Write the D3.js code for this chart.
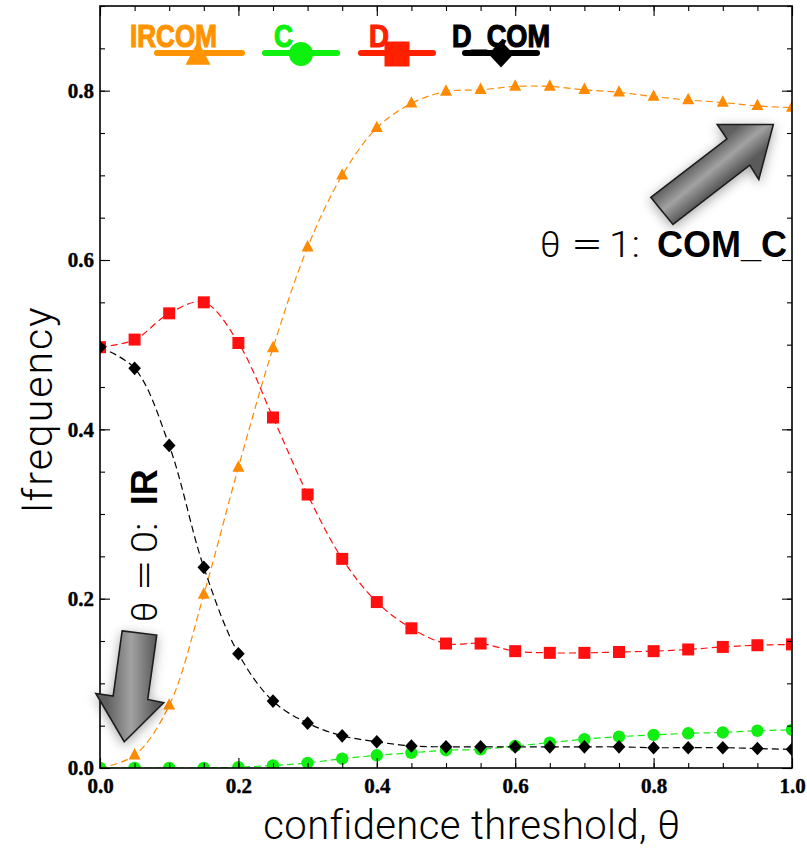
<!DOCTYPE html>
<html>
<head>
<meta charset="utf-8">
<script src="https://cdn.jsdelivr.net/npm/d3@7"></script>
<style>
  body { margin: 0; background: #fff; }
</style>
</head>
<body>
<div class="plot"></div>
<script>
// data
const thresholds = [0.00, 0.05, 0.10, 0.15, 0.20, 0.25, 0.30, 0.35, 0.40, 0.45, 0.50,
                    0.55, 0.60, 0.65, 0.70, 0.75, 0.80, 0.85, 0.90, 0.95, 1.00];
const ircom = [0.000, 0.015, 0.074, 0.205, 0.355, 0.496, 0.615, 0.700, 0.756, 0.785, 0.799,
               0.801, 0.805, 0.805, 0.801, 0.798, 0.793, 0.789, 0.786, 0.782, 0.780];
const cVals = [0.000, 0.000, 0.000, 0.000, 0.001, 0.003, 0.006, 0.011, 0.015, 0.018, 0.021,
               0.022, 0.026, 0.030, 0.034, 0.037, 0.039, 0.041, 0.042, 0.044, 0.045];
const dVals = [0.497, 0.506, 0.537, 0.550, 0.502, 0.414, 0.323, 0.247, 0.196, 0.165, 0.147,
               0.147, 0.138, 0.136, 0.136, 0.137, 0.138, 0.140, 0.143, 0.145, 0.146];
const dcomVals = [0.497, 0.472, 0.381, 0.237, 0.135, 0.079, 0.053, 0.038, 0.031, 0.026, 0.025,
                  0.025, 0.025, 0.025, 0.025, 0.025, 0.024, 0.024, 0.024, 0.023, 0.022];
const seriesNames = ["IRCOM", "C", "D", "D_COM"];
const xTickLabels = ["0.0", "0.2", "0.4", "0.6", "0.8", "1.0"];
const yTickLabels = ["0.0", "0.2", "0.4", "0.6", "0.8"];

const margin = {top: 6, right: 15, bottom: 86, left: 100};
const w = 807 - margin.left - margin.right;
const h = 854 - margin.top - margin.bottom;

const svg = d3.select(".plot")
    .append("svg")
        .attr("width", 807)
        .attr("height", 854)
    .append("g")
        .attr("transform", "translate(" + margin.left + ", " + margin.top + ")");

const x = d3.scaleLinear().domain([0, 1]).range([0, w]);
const y = d3.scaleLinear().domain([0, 0.9]).range([h, 0]);

const colors = {IRCOM: "#ff8a00", C: "#11ee11", D: "#ff0f0f", D_COM: "#000000"};
const legendColors = {IRCOM: "#ff9400", C: "#0ef00e", D: "#ff2000", D_COM: "#000000"};
const shapes = {IRCOM: "triangle", C: "circle", D: "square", D_COM: "diamond"};

const series = [
    {name: "IRCOM", values: ircom},
    {name: "C", values: cVals},
    {name: "D", values: dVals},
    {name: "D_COM", values: dcomVals}
];

// marker shapes, s = half size
function marker(shape, s) {
    if (shape === "triangle") return `M0,${-s * 1.2}L${s},${s * 0.7}L${-s},${s * 0.7}Z`;
    if (shape === "square") return `M${-s},${-s}h${2 * s}v${2 * s}h${-2 * s}Z`;
    if (shape === "diamond") return `M0,${-s * 1.08}L${s},0L0,${s * 1.08}L${-s},0Z`;
    const p = d3.path();
    p.arc(0, 0, s, 0, 2 * Math.PI);
    return p.toString();
}
const markerSize = {triangle: 6, square: 6, diamond: 6.3, circle: 6.2};

const defs = svg.append("defs");
defs.append("clipPath").attr("id", "plotclip")
    .append("rect").attr("width", w).attr("height", h);

const shadow = defs.append("filter").attr("id", "shadow")
    .attr("x", "-50%").attr("y", "-50%").attr("width", "200%").attr("height", "200%");
shadow.append("feDropShadow")
    .attr("dx", 0).attr("dy", 3).attr("stdDeviation", 6)
    .attr("flood-color", "#000").attr("flood-opacity", 0.35);

// series lines and markers
const line = d3.line()
    .x((d, i) => x(thresholds[i]))
    .y(d => y(d))
    .curve(d3.curveCatmullRom.alpha(0.5));

const plot = svg.append("g").attr("clip-path", "url(#plotclip)");

series.forEach(s => {
    plot.append("path")
        .attr("d", line(s.values))
        .attr("fill", "none")
        .attr("stroke", colors[s.name])
        .attr("stroke-width", 1.2)
        .attr("stroke-dasharray", "7,4");
});

series.forEach(s => {
    plot.selectAll(".m-" + s.name)
        .data(s.values)
        .enter()
        .append("path")
        .attr("class", "m-" + s.name)
        .attr("transform", (d, i) => "translate(" + x(thresholds[i]) + "," + y(d) + ")")
        .attr("d", marker(shapes[s.name], markerSize[shapes[s.name]]))
        .attr("fill", colors[s.name]);
});

// frame
svg.append("rect")
    .attr("width", w)
    .attr("height", h)
    .attr("fill", "none")
    .attr("stroke", "#000")
    .attr("stroke-width", 1.6);

// ticks, pointing inward on all four sides
const majorX = d3.range(0, 1.0001, 0.2);
const minorX = d3.range(0, 1.0001, 0.05);
const majorY = d3.range(0, 0.8001, 0.2);
const minorY = d3.range(0, 0.9001, 0.05);

function addAxis(axis, transform, cls) {
    const g = svg.append("g").attr("class", cls).attr("transform", transform).call(axis);
    g.select(".domain").remove();
    g.selectAll("line").attr("stroke", "#000").attr("stroke-width", 1.1);
    return g;
}

addAxis(d3.axisBottom(x).tickValues(minorX).tickSize(-5).tickFormat(""), "translate(0," + h + ")", "minor");
addAxis(d3.axisTop(x).tickValues(minorX).tickSize(-5).tickFormat(""), "translate(0,0)", "minor");
addAxis(d3.axisLeft(y).tickValues(minorY).tickSize(-5).tickFormat(""), "translate(0,0)", "minor");
addAxis(d3.axisRight(y).tickValues(minorY).tickSize(-5).tickFormat(""), "translate(" + w + ",0)", "minor");

addAxis(d3.axisBottom(x).tickValues(majorX).tickSize(-10).tickPadding(10)
    .tickFormat((d, i) => xTickLabels[i]), "translate(0," + h + ")", "x-axis");
addAxis(d3.axisLeft(y).tickValues(majorY).tickSize(-10).tickPadding(6)
    .tickFormat((d, i) => yTickLabels[i]), "translate(0,0)", "y-axis");
addAxis(d3.axisTop(x).tickValues(majorX).tickSize(-10).tickFormat(""), "translate(0,0)", "major");
addAxis(d3.axisRight(y).tickValues(majorY).tickSize(-10).tickFormat(""), "translate(" + w + ",0)", "major");

svg.selectAll(".x-axis text, .y-axis text")
    .attr("fill", "#000")
    .attr("stroke", "#000")
    .attr("stroke-width", 0.4)
    .style("font-family", "'Liberation Serif', 'Times New Roman', serif")
    .style("font-weight", "bold")
    .style("font-size", "21px");

// axis titles
svg.append("text")
    .attr("x", 372)
    .attr("y", h + 71)
    .attr("text-anchor", "middle")
    .style("font-family", "Roboto, 'Liberation Sans', sans-serif")
    .style("font-weight", 300)
    .style("font-size", "40px")
    .style("letter-spacing", "0.4px")
    .attr("fill", "#000")
    .text("confidence threshold, θ");

svg.append("text")
    .attr("transform", "translate(" + (-48) + "," + (h / 2 + 22) + ") rotate(-90)")
    .attr("text-anchor", "middle")
    .style("font-family", "Roboto, 'Liberation Sans', sans-serif")
    .style("font-weight", 300)
    .style("font-size", "41px")
    .style("letter-spacing", "2px")
    .attr("fill", "#000")
    .text("lfrequency");

// legend
const legendX = [98, 201, 297, 401];
const legendTextDx = [-68, -27, -28, -49];
const legendTextLen = [87, 19, 20, 98];
const legend = svg.append("g")
    .selectAll("g")
    .data(seriesNames)
    .enter()
    .append("g")
    .attr("transform", (d, i) => "translate(" + legendX[i] + ",47)");

legend.append("line")
    .attr("x1", (d, i) => i === 0 ? -41 : -36)
    .attr("x2", (d, i) => i === 0 ? 44 : 36)
    .attr("stroke", d => legendColors[d])
    .attr("stroke-width", 6)
    .attr("stroke-linecap", "round");

legend.append("path")
    .attr("transform", d => "translate(0," + (shapes[d] === "triangle" ? 3 : 1) + ")")
    .attr("d", d => marker(shapes[d], shapes[d] === "circle" ? 12 : 12.5))
    .attr("fill", d => legendColors[d]);

legend.append("text")
    .attr("x", (d, i) => legendTextDx[i])
    .attr("y", -6)
    .attr("textLength", (d, i) => legendTextLen[i])
    .attr("lengthAdjust", "spacingAndGlyphs")
    .style("font-family", "'Liberation Sans', Arial, sans-serif")
    .style("font-weight", "bold")
    .style("font-size", "32px")
    .attr("fill", d => legendColors[d])
    .attr("stroke", d => legendColors[d])
    .attr("stroke-width", 1.2)
    .text(d => d);

// annotation arrows, outlines given in data units
const arrowUp = [[0.796, 0.674], [0.906, 0.743], [0.892, 0.760], [0.973, 0.760],
                 [0.952, 0.695], [0.939, 0.712], [0.828, 0.642]];
const arrowDown = [[0.032, 0.162], [0.082, 0.157], [0.069, 0.081], [0.092, 0.077],
                   [0.035, 0.031], [-0.006, 0.088], [0.019, 0.085]];

function arrowGradient(id, p1, p2) {
    const g = defs.append("linearGradient").attr("id", id)
        .attr("gradientUnits", "userSpaceOnUse")
        .attr("x1", x(p1[0])).attr("y1", y(p1[1]))
        .attr("x2", x(p2[0])).attr("y2", y(p2[1]));
    g.append("stop").attr("offset", "0").attr("stop-color", "#5e5e5e");
    g.append("stop").attr("offset", "0.5").attr("stop-color", "#a2a2a2");
    g.append("stop").attr("offset", "1").attr("stop-color", "#5a5a5a");
}
arrowGradient("gradUp", arrowUp[0], arrowUp[6]);
arrowGradient("gradDown", [arrowDown[6][0] - 0.01, arrowDown[0][1]], [arrowDown[2][0] + 0.012, arrowDown[0][1]]);

[[arrowUp, "gradUp"], [arrowDown, "gradDown"]].forEach(([pts, grad]) => {
    svg.append("path")
        .attr("d", "M" + pts.map(p => x(p[0]) + "," + y(p[1])).join("L") + "Z")
        .attr("fill", "url(#" + grad + ")")
        .attr("stroke", "#1e1e1e")
        .attr("stroke-width", 1.6)
        .attr("stroke-linejoin", "miter")
        .attr("filter", "url(#shadow)");
});

// annotation texts
function annotation(g, digit, label) {
    const t = g.append("text")
        .style("font-size", "36px")
        .attr("fill", "#000");
    const light = "Roboto, 'Liberation Sans', sans-serif";
    t.append("tspan").attr("x", 0).style("font-family", light).style("font-weight", 300).text("θ");
    t.append("tspan").attr("x", 31).style("font-family", light).style("font-weight", 300)
        .attr("textLength", 32).attr("lengthAdjust", "spacingAndGlyphs").text("=");
    t.append("tspan").attr("x", 69).style("font-family", light).style("font-weight", 300)
        .attr("textLength", 31).attr("lengthAdjust", "spacingAndGlyphs").text(digit + ":");
    t.append("tspan").attr("x", 117).style("font-family", "'Liberation Sans', Arial, sans-serif")
        .style("font-weight", "bold").text(label);
}
annotation(svg.append("g").attr("transform", "translate(" + x(0.636) + "," + y(0.603) + ")"), "1", "COM_C");
annotation(svg.append("g").attr("transform", "translate(" + x(0.082) + "," + y(0.172) + ") rotate(-90)"), "0", "IR");
</script>
</body>
</html>
